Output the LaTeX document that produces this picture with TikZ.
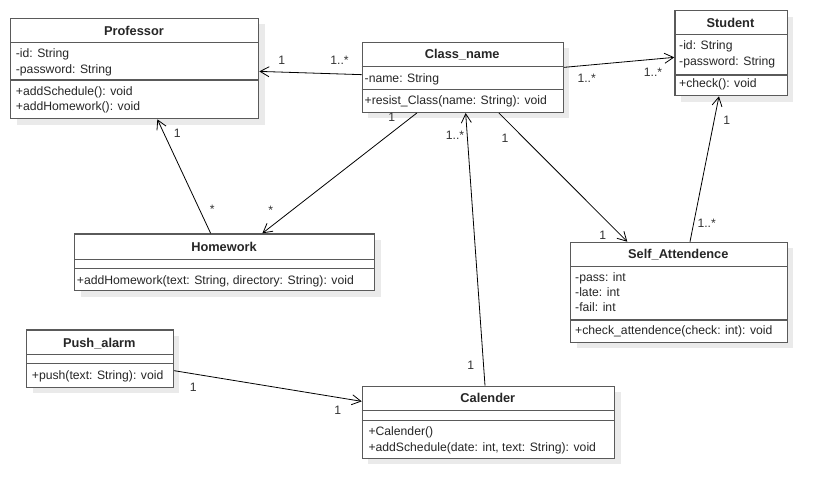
\documentclass[tikz,border=0pt]{standalone}
\usepackage{fontspec}
\setmainfont{Liberation Sans}
\usetikzlibrary{arrows.meta,shadows}
\definecolor{boxline}{HTML}{5A5A5A}
\definecolor{ink}{HTML}{262626}
\definecolor{shade}{HTML}{EAEAEA}
\begin{document}
\begin{tikzpicture}[x=1pt,y=-1pt,
  classbox/.style={draw=boxline, line width=1.3pt, fill=white, rectangle,
    inner sep=0pt, anchor=north west,
    general shadow={fill=shade, draw=none, shadow xshift=6pt, shadow yshift=-6pt}},
  sepline/.style={draw=boxline, line width=1.3pt},
  title/.style={font=\fontsize{12.8}{14}\selectfont\bfseries, text=ink, inner sep=0pt, anchor=base},
  member/.style={font=\fontsize{12.2}{14}\selectfont, text=ink, inner sep=0pt, anchor=base west},
  mult/.style={font=\fontsize{12.2}{14}\selectfont, text=black!80, inner sep=0pt, anchor=base},
  assoc/.style={draw=black, line width=0.8pt, -{Straight Barb[length=9pt,width=10pt,line width=0.8pt]}}]

\fill[white] (0,0) rectangle (827,498);
\useasboundingbox (0,0) rectangle (827,498);

% ---- classes ----
\node[classbox, minimum width=248pt, minimum height=100.5pt] (prof) at (10,17.5) {};
\draw[sepline] ([yshift=-25pt]prof.north west) -- ([yshift=-25pt]prof.north east);
\draw[sepline] ([yshift=-62.5pt]prof.north west) -- ([yshift=-62.5pt]prof.north east);
\node[title] (profT) at (134,35) {Professor};
\node[member] (profA1) at (15.7,57.6) {-id: String};
\node[member] (profA2) at (15.7,73.3) {-password: String};
\node[member] (profM1) at (15.7,95) {+addSchedule(): void};
\node[member] (profM2) at (15.7,110.3) {+addHomework(): void};

\node[classbox, minimum width=201pt, minimum height=70pt] (cls) at (361.7,41.7) {};
\draw[sepline] ([yshift=-25pt]cls.north west) -- ([yshift=-25pt]cls.north east);
\draw[sepline] ([yshift=-47.6pt]cls.north west) -- ([yshift=-47.6pt]cls.north east);
\node[title] (clsT) at (462.2,58.8) {Class\_name};
\node[member] (clsA1) at (364.5,82.6) {-name: String};
\node[member] (clsM1) at (364.5,104.3) {+resist\_Class(name: String): void};

\node[classbox, minimum width=112.4pt, minimum height=85pt] (stud) at (674.3,10) {};
\draw[sepline] ([yshift=-24.3pt]stud.north west) -- ([yshift=-24.3pt]stud.north east);
\draw[sepline] ([yshift=-65pt]stud.north west) -- ([yshift=-65pt]stud.north east);
\node[title] (studT) at (730.5,27.2) {Student};
\node[member] (studA1) at (679,49.3) {-id: String};
\node[member] (studA2) at (679,65.3) {-password: String};
\node[member] (studM1) at (679,87.6) {+check(): void};

\node[classbox, minimum width=300pt, minimum height=56.7pt] (hw) at (74,233.3) {};
\draw[sepline] ([yshift=-26pt]hw.north west) -- ([yshift=-26pt]hw.north east);
\draw[sepline] ([yshift=-35pt]hw.north west) -- ([yshift=-35pt]hw.north east);
\node[title] (hwT) at (224,251.2) {Homework};
\node[member] (hwM1) at (76.7,284.3) {+addHomework(text: String, directory: String): void};

\node[classbox, minimum width=216.7pt, minimum height=100pt] (self) at (570,241.7) {};
\draw[sepline] ([yshift=-25pt]self.north west) -- ([yshift=-25pt]self.north east);
\draw[sepline] ([yshift=-78.3pt]self.north west) -- ([yshift=-78.3pt]self.north east);
\node[title] (selfT) at (678.3,258.8) {Self\_Attendence};
\node[member] (selfA1) at (575,281.6) {-pass: int};
\node[member] (selfA2) at (575,296.6) {-late: int};
\node[member] (selfA3) at (575,311.6) {-fail: int};
\node[member] (selfM1) at (575,334.3) {+check\_attendence(check: int): void};

\node[classbox, minimum width=146.7pt, minimum height=57.4pt] (push) at (26,329.3) {};
\draw[sepline] ([yshift=-25pt]push.north west) -- ([yshift=-25pt]push.north east);
\draw[sepline] ([yshift=-34pt]push.north west) -- ([yshift=-34pt]push.north east);
\node[title] (pushT) at (99.3,347.2) {Push\_alarm};
\node[member] (pushM1) at (31.7,379.3) {+push(text: String): void};

\node[classbox, minimum width=252.3pt, minimum height=72pt] (cal) at (361.7,385.7) {};
\draw[sepline] ([yshift=-25pt]cal.north west) -- ([yshift=-25pt]cal.north east);
\draw[sepline] ([yshift=-35pt]cal.north west) -- ([yshift=-35pt]cal.north east);
\node[title] (calT) at (487.8,402.8) {Calender};
\node[member] (calM1) at (368.3,435) {+Calender()};
\node[member] (calM2) at (368.3,451) {+addSchedule(date: int, text: String): void};

% ---- associations ----
\draw[assoc] ([yshift=2.7pt]cls.west) -- ([yshift=-3pt]prof.east);
\draw[assoc] ([yshift=10pt]cls.east) -- ([yshift=-4.2pt]stud.west);
\draw[assoc] ([xshift=-14pt]hw.north) -- ([xshift=22.7pt]prof.south);
\draw[assoc] ([xshift=-46pt]cls.south) -- ([xshift=37.7pt]hw.north);
\draw[assoc] ([xshift=-3.5pt]cal.north) -- ([xshift=2.8pt]cls.south);
\draw[assoc] ([xshift=36pt]cls.south) -- ([xshift=-51.7pt]self.north);
\draw[assoc] ([xshift=11pt]self.north) -- ([xshift=-12.2pt]stud.south);
\draw[assoc] ([yshift=-12pt]push.east) -- ([yshift=21pt]cal.west);

% ---- multiplicities ----
\node[mult] (m1a) at (281.7,64.5) {1};
\node[mult] (m1b) at (339.5,64.5) {1..*};
\node[mult] (m2a) at (586.7,82.5) {1..*};
\node[mult] (m2b) at (653,76.2) {1..*};
\node[mult] (m3a) at (177.3,137.8) {1};
\node[mult] (m3b) at (212.3,213.8) {*};
\node[mult] (m4a) at (391.7,121.2) {1};
\node[mult] (m4b) at (270.7,214.8) {*};
\node[mult] (m5a) at (455,139.5) {1..*};
\node[mult] (m5b) at (470.7,369.5) {1};
\node[mult] (m6a) at (505,142.8) {1};
\node[mult] (m6b) at (602.7,239.5) {1};
\node[mult] (m7a) at (726.7,124.5) {1};
\node[mult] (m7b) at (706.7,227.8) {1..*};
\node[mult] (m8a) at (193.3,391.2) {1};
\node[mult] (m8b) at (337.7,414.5) {1};
\end{tikzpicture}
\end{document}
